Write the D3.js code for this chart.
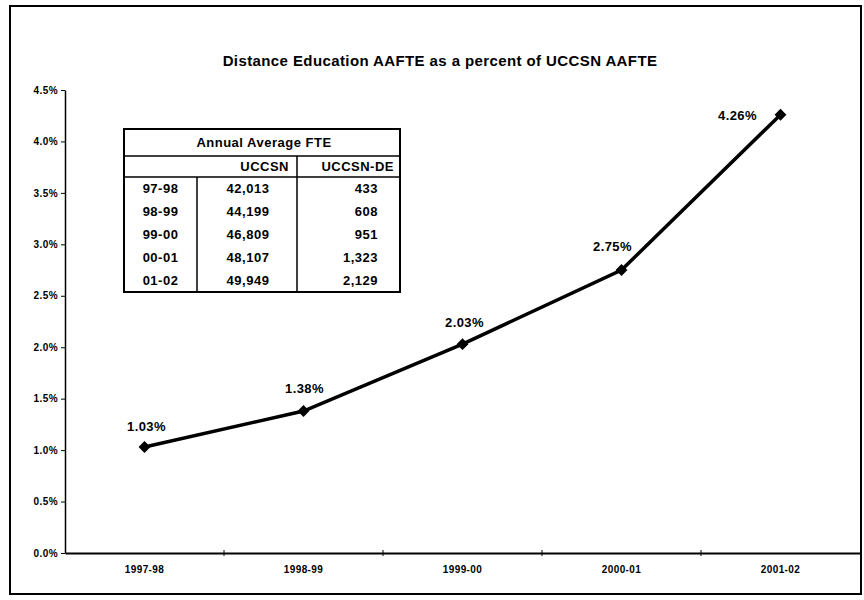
<!DOCTYPE html>
<html>
<head>
<meta charset="utf-8">
<script src="https://cdn.jsdelivr.net/npm/d3@7"></script>
<style>
	body { margin: 0; background: #fff; }
	text { font-family: "Liberation Sans", Arial, sans-serif; fill: #000; }
	.title { font-size: 15px; font-weight: bold; letter-spacing: 0.4px; }
	.axis text { font-size: 10px; font-weight: bold; letter-spacing: 0.4px; }
	.axis path, .axis line { stroke: #000; }
	.dlabel { font-size: 13px; font-weight: bold; letter-spacing: 0.4px; }
	.tbl-head { font-size: 13px; font-weight: bold; letter-spacing: 0.5px; }
	.tbl-cell { font-size: 13px; font-weight: bold; letter-spacing: 0.5px; }
</style>
</head>
<body>
<svg id="viz"></svg>
<script>
// chart data
const years = ["1997-98", "1998-99", "1999-00", "2000-01", "2001-02"];
const pctValues = [1.03, 1.38, 2.03, 2.75, 4.26];
const yTicks = [0, 0.5, 1.0, 1.5, 2.0, 2.5, 3.0, 3.5, 4.0, 4.5];

// inset table data
const tableTitle = "Annual Average FTE";
const tableCols = ["", "UCCSN", "UCCSN-DE"];
const tableRows = ["97-98", "98-99", "99-00", "00-01", "01-02"];
const uccsnFte = ["42,013", "44,199", "46,809", "48,107", "49,949"];
const deFte = ["433", "608", "951", "1,323", "2,129"];

const width = 864;
const height = 600;

const svg = d3.select("svg#viz")
	.attr("width", width)
	.attr("height", height);

// outer frame
svg.append("rect")
	.attr("x", 10).attr("y", 6)
	.attr("width", 851).attr("height", 588)
	.attr("fill", "none")
	.attr("stroke", "#000")
	.attr("stroke-width", 2);

svg.append("text")
	.attr("class", "title")
	.attr("x", 440).attr("y", 66)
	.attr("text-anchor", "middle")
	.text("Distance Education AAFTE as a percent of UCCSN AAFTE");

// scales
const x = d3.scaleBand()
	.domain(years)
	.range([65, 860])
	.padding(0);

const y = d3.scaleLinear()
	.domain([0, 4.5])
	.range([553, 90]);

const cx = d => x(d) + x.bandwidth() / 2;

// y axis
const yAxis = d3.axisLeft(y)
	.tickValues(yTicks)
	.tickSize(4)
	.tickSizeOuter(0)
	.tickFormat(d => d.toFixed(1) + "%");

const yg = svg.append("g")
	.attr("class", "axis")
	.attr("transform", translate(65, 0))
	.call(yAxis)
	.call(g => g.selectAll(".tick text").attr("x", -7));
yg.select(".domain").attr("stroke-width", 1.5);

// x axis, labels centred in each band, ticks on band edges
const xAxis = d3.axisBottom(x)
	.tickSize(0)
	.tickSizeOuter(0);

const xg = svg.append("g")
	.attr("class", "axis")
	.attr("transform", translate(0, 553))
	.call(xAxis);
xg.selectAll(".tick text").attr("dy", "1.7em");
xg.select(".domain").attr("stroke-width", 2);

xg.selectAll("line.edge")
	.data(years.slice(1))
	.join("line")
	.attr("class", "edge")
	.attr("x1", d => x(d)).attr("x2", d => x(d))
	.attr("y1", -3).attr("y2", 3)
	.attr("stroke", "#000");

// line + markers
const line = d3.line()
	.x((d, i) => cx(years[i]))
	.y(d => y(d));

svg.append("path")
	.datum(pctValues)
	.attr("d", line)
	.attr("fill", "none")
	.attr("stroke", "#000")
	.attr("stroke-width", 3.5);

svg.append("g").selectAll("path")
	.data(pctValues)
	.join("path")
	.attr("d", d3.symbol(d3.symbolDiamond2, 90))
	.attr("transform", (d, i) => translate(cx(years[i]), y(d)))
	.attr("fill", "#000");

// data labels (Excel positions were nudged by hand)
const labelOffsets = [[2, -16], [1, -18], [2, -17], [-9, -19], [-43, 5]];
svg.append("g").selectAll("text")
	.data(pctValues)
	.join("text")
	.attr("class", "dlabel")
	.attr("text-anchor", "middle")
	.attr("x", (d, i) => cx(years[i]) + labelOffsets[i][0])
	.attr("y", (d, i) => y(d) + labelOffsets[i][1])
	.text(d => d.toFixed(2) + "%");

// inset table
drawTable();

function drawTable() {
	const left = 124, right = 400;
	const colEdges = [left, 197, 297, right];
	const top = 129, titleH = 27, headH = 21, rowH = 23;
	const bodyTop = top + titleH + headH;
	const bottom = bodyTop + rowH * tableRows.length;

	const t = svg.append("g").attr("id", "table");

	t.append("rect")
		.attr("x", left).attr("y", top)
		.attr("width", right - left).attr("height", bottom - top)
		.attr("fill", "#fff")
		.attr("stroke", "#000")
		.attr("stroke-width", 2);

	t.append("line")
		.attr("x1", left).attr("x2", right)
		.attr("y1", top + titleH).attr("y2", top + titleH)
		.attr("stroke", "#000").attr("stroke-width", 1.5);
	t.append("line")
		.attr("x1", left).attr("x2", right)
		.attr("y1", bodyTop).attr("y2", bodyTop)
		.attr("stroke", "#000").attr("stroke-width", 1.5);

	// column dividers
	t.append("line")
		.attr("x1", colEdges[1]).attr("x2", colEdges[1])
		.attr("y1", bodyTop).attr("y2", bottom)
		.attr("stroke", "#000").attr("stroke-width", 1.5);
	t.append("line")
		.attr("x1", colEdges[2]).attr("x2", colEdges[2])
		.attr("y1", top + titleH).attr("y2", bottom)
		.attr("stroke", "#000").attr("stroke-width", 1.5);

	t.append("text")
		.attr("class", "tbl-head")
		.attr("x", (left + right) / 2 + 2).attr("y", top + 18)
		.attr("text-anchor", "middle")
		.text(tableTitle);

	t.append("text")
		.attr("class", "tbl-head")
		.attr("x", colEdges[2] - 8).attr("y", top + titleH + 15)
		.attr("text-anchor", "end")
		.text(tableCols[1]);
	t.append("text")
		.attr("class", "tbl-head")
		.attr("x", right - 6).attr("y", top + titleH + 15)
		.attr("text-anchor", "end")
		.text(tableCols[2]);

	tableRows.forEach(function(r, i) {
		let ry = bodyTop + 16 + rowH * i;
		t.append("text")
			.attr("class", "tbl-head")
			.attr("x", (left + colEdges[1]) / 2).attr("y", ry)
			.attr("text-anchor", "middle")
			.text(r);
		t.append("text")
			.attr("class", "tbl-cell")
			.attr("x", (colEdges[1] + colEdges[2]) / 2 + 1).attr("y", ry)
			.attr("text-anchor", "middle")
			.text(uccsnFte[i]);
		t.append("text")
			.attr("class", "tbl-cell")
			.attr("x", right - 22).attr("y", ry)
			.attr("text-anchor", "end")
			.text(deFte[i]);
	});
}

function translate(x, y) {
	return 'translate(' + x + ',' + y + ')';
}
</script>
</body>
</html>
